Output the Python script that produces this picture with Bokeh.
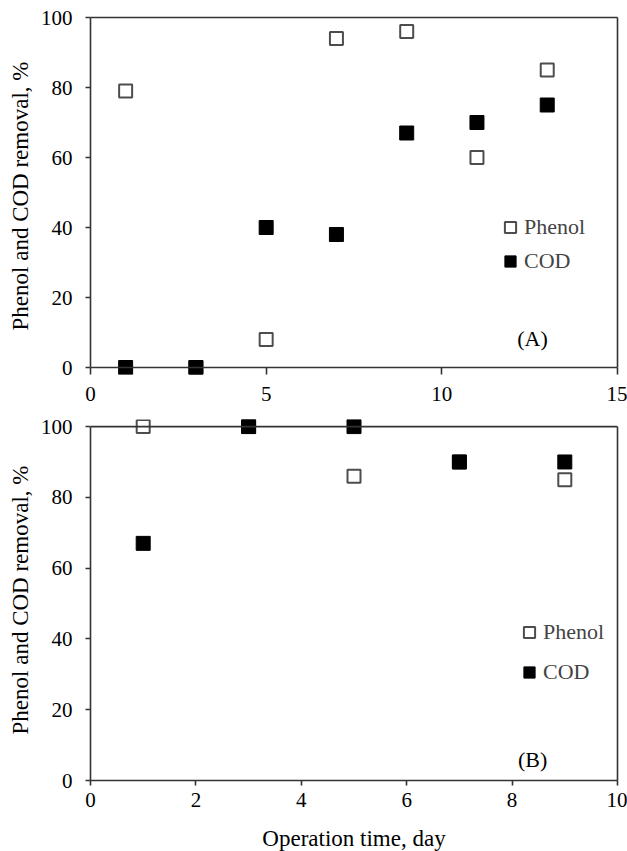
from bokeh.plotting import figure
from bokeh.layouts import column
from bokeh.models import (Legend, LegendItem, Label, Range1d, FixedTicker,
                          LinearAxis, Span)
from bokeh.embed import file_html
from bokeh.resources import INLINE

# ---- Panel (A) ----
days_a = [1, 3, 5, 7, 9, 11, 13]
phenol_a = [79, 0, 8, 94, 96, 60, 85]
cod_a = [0, 0, 40, 38, 67, 70, 75]
xticks_a = [0, 5, 10, 15]

# ---- Panel (B) ----
days_b = [1, 3, 5, 7, 9]
phenol_b = [100, 100, 86, 90, 85]
cod_b = [67, 100, 100, 90, 90]
xticks_b = [0, 2, 4, 6, 8, 10]

yticks = [0, 20, 40, 60, 80, 100]
ylabel = "Phenol and COD removal, %"
xlabel = "Operation time, day"
series_names = ["Phenol", "COD"]

FONT = "Liberation Serif"
AX = "#333333"
TICK_FS = "21px"
LAB_FS = "23px"
LEG_FS = "22px"


def style_axis(ax, ticks):
    ax.ticker = FixedTicker(ticks=ticks)
    ax.axis_line_color = AX
    ax.axis_line_width = 1.6
    ax.major_tick_line_color = AX
    ax.major_tick_line_width = 1.6
    ax.major_tick_in = 0
    ax.major_tick_out = 5
    ax.minor_tick_line_color = None
    ax.major_label_text_font = FONT
    ax.major_label_text_font_size = TICK_FS
    ax.major_label_text_color = "black"
    ax.axis_label_text_font = FONT
    ax.axis_label_text_font_size = LAB_FS
    ax.axis_label_text_font_style = "normal"
    ax.axis_label_text_color = "black"


def border_axis(bounds):
    ax = LinearAxis()
    ax.ticker = FixedTicker(ticks=[])
    ax.bounds = bounds
    ax.axis_line_color = AX
    ax.axis_line_width = 1.6
    ax.major_tick_out = 0
    ax.major_tick_in = 0
    ax.minor_tick_line_color = None
    ax.major_label_standoff = 0
    ax.major_label_text_font_size = "0px"
    return ax


def make_panel(days, phen, cod, xr, yr, frame_h, mb_top, mb_bottom):
    p = figure(frame_width=527, frame_height=frame_h,
               x_range=xr, y_range=yr,
               output_backend="svg", toolbar_location=None,
               min_border_left=90, min_border_right=10,
               min_border_top=mb_top, min_border_bottom=mb_bottom)
    p.outline_line_color = None
    p.xgrid.grid_line_color = None
    p.ygrid.grid_line_color = None
    p.background_fill_color = "white"
    r_ph = p.scatter(days, phen, marker="square", size=13,
                     fill_color="white", line_color="#4d4d4d", line_width=2)
    r_cod = p.scatter(days, cod, marker="square", size=14,
                      fill_color="black", line_color="black", line_width=1)
    return p, r_ph, r_cod


def make_legend(r_ph, r_cod, loc, spacing):
    return Legend(items=[LegendItem(label=series_names[0], renderers=[r_ph]),
                         LegendItem(label=series_names[1], renderers=[r_cod])],
                  location=loc, orientation="vertical",
                  glyph_width=28, glyph_height=28, label_standoff=-7,
                  spacing=spacing, padding=0, margin=0,
                  label_text_font=FONT, label_text_font_size=LEG_FS,
                  border_line_color=None, background_fill_alpha=0)


# ---------- Figure A ----------
p1, ph1, cod1 = make_panel(days_a, phenol_a, cod_a, Range1d(0, 15),
                           Range1d(-2, 100), 357, 17, 36)
xa = p1.xaxis[0]
style_axis(xa, xticks_a)
xa.axis_line_color = None
xa.major_tick_in = 7
xa.major_tick_out = 0
xa.major_label_standoff = 12
p1.add_layout(Span(location=0, dimension="width", line_color=AX,
                   line_width=1.6))
ya = p1.yaxis[0]
style_axis(ya, yticks)
ya.bounds = (0, 100)
ya.major_label_standoff = 13
ya.axis_label = ylabel
ya.axis_label_standoff = 5
p1.add_layout(border_axis((0, 15)), "above")
p1.add_layout(border_axis((0, 100)), "right")
p1.add_layout(make_legend(ph1, cod1, (406, 99), 6), "center")
p1.add_layout(Label(x=12.58, y=8.3, text="(A)", text_align="center",
                    text_baseline="middle", text_font=FONT,
                    text_font_size=LEG_FS, text_color="black"))

# ---------- Figure B ----------
p2, ph2, cod2 = make_panel(days_b, phenol_b, cod_b, Range1d(0, 10),
                           Range1d(0, 102), 361, 9, 70)
xb = p2.xaxis[0]
style_axis(xb, xticks_b)
xb.major_label_standoff = 7
xb.axis_label = xlabel
xb.axis_label_standoff = 16
yb = p2.yaxis[0]
style_axis(yb, yticks)
yb.bounds = (0, 100)
yb.major_label_standoff = 13
yb.axis_label = ylabel
yb.axis_label_standoff = 5
p2.add_layout(border_axis((0, 100)), "right")
p2.add_layout(Span(location=100, dimension="width", line_color=AX,
                   line_width=1.6))
p2.add_layout(make_legend(ph2, cod2, (425, 94), 12), "center")
p2.add_layout(Label(x=8.39, y=6, text="(B)", text_align="center",
                    text_baseline="middle", text_font=FONT,
                    text_font_size=LEG_FS, text_color="black"))

layout = column(p1, p2, spacing=0)
open("out.html", "w").write(file_html(layout, INLINE))
